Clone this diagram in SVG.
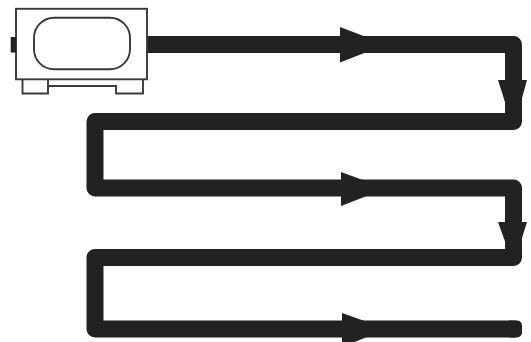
<svg xmlns="http://www.w3.org/2000/svg" width="531" height="342" viewBox="0 0 531 342">
<style>
.pipe{fill:none;stroke:#222;stroke-width:17;stroke-linejoin:round}
.head{fill:#222}
.line{fill:none;stroke:#3a3a3a;stroke-width:1.9}
.solid{fill:#222}
</style>
<rect width="531" height="342" fill="#fff"/>
<g id="connectors">
<path class="pipe" d="M147 44.5H513.5V121.5H95V188H513.5V257.5H95V329H516"/>
<rect class="solid" x="505" y="320.5" width="17" height="17" rx="5"/>
<path class="head" d="M340 27L386 44.5L340 62.5Z"/>
<path class="head" d="M498 80H527L513.5 129Z"/>
<path class="head" d="M341 172L386 188.5L341 206Z"/>
<path class="head" d="M498 222H527L513.5 265Z"/>
<path class="head" d="M342 313L387 329L342 347Z"/>
</g>
<g id="unit">
<rect class="line" x="16" y="8.8" width="131" height="70.5" fill="#fff"/>
<rect class="line" x="34" y="17.8" width="96" height="51.5" rx="20" ry="20"/>
<rect class="solid" x="10.7" y="37" width="5.5" height="15.5"/>
<path class="line" d="M22.5 79.3V93.5H48V86H116V93.5H143V79.3M48 79.3V86"/>
</g>
</svg>
